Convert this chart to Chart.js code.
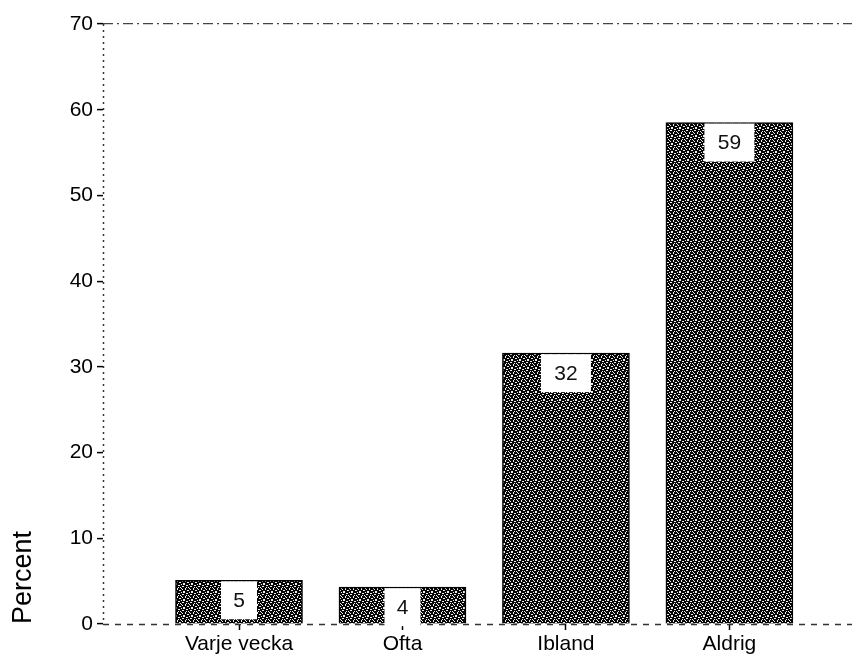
<!DOCTYPE html>
<html>
<head>
<meta charset="utf-8">
<script src="https://cdn.jsdelivr.net/npm/chart.js@4.4.1/dist/chart.umd.min.js"></script>
<style>
    body { margin: 0; background: #fff; }
    #wrap { width: 862px; height: 663px; }
</style>
</head>
<body>
<div id="wrap"><canvas id="chart" width="862" height="663"></canvas></div>
<script>
// categories and values (percent)
const categories = ["Varje vecka", "Ofta", "Ibland", "Aldrig"];
const percent_values = [5.1, 4.3, 31.6, 58.5];
const y_ticks = [0, 10, 20, 30, 40, 50, 60, 70];

const FONT = "'Liberation Sans', Arial, sans-serif";

/**
 * Build a dithered dark fill like the scanned bars.
 * @returns {CanvasPattern} pattern.
 */
function make_pattern() {
    let c = document.createElement("canvas");
    c.width = 8;
    c.height = 8;
    let g = c.getContext("2d");
    g.fillStyle = "#050505";
    g.fillRect(0, 0, 8, 8);
    g.fillStyle = "#f0f0f0";
    for (let i = 0; i < 8; i++) {
        for (let j = 0; j < 8; j++) {
            if ((i * 3 + j * 5) % 7 === 0 || (i + 3 * j) % 8 === 5) {
                g.fillRect(i, j, 1, 1);
            }
        }
    }
    return g.createPattern(c, "repeat");
}

// dotted axis lines, drawn under the bars
const axis_lines = {
    id: "axis_lines",
    beforeDatasetsDraw(chart) {
        let ctx = chart.ctx;
        let a = chart.chartArea;
        ctx.save();
        ctx.strokeStyle = "#333";
        ctx.lineWidth = 1.5;
        ctx.setLineDash([2, 4]);
        ctx.beginPath();
        ctx.moveTo(a.left + 0.5, a.top);
        ctx.lineTo(a.left + 0.5, a.bottom);
        ctx.stroke();
        ctx.setLineDash([6, 6]);
        ctx.beginPath();
        ctx.moveTo(a.left, a.bottom + 0.5);
        ctx.lineTo(a.right, a.bottom + 0.5);
        ctx.stroke();
        ctx.restore();
    }
};

// white value boxes at the top of each bar
const value_boxes = {
    id: "value_boxes",
    afterDatasetsDraw(chart) {
        let ctx = chart.ctx;
        let meta = chart.getDatasetMeta(0);
        ctx.save();
        ctx.font = "21px " + FONT;
        ctx.textAlign = "center";
        ctx.textBaseline = "middle";
        meta.data.forEach((bar, i) => {
            let text = String(Math.round(percent_values[i]));
            let w = text.length > 1 ? 50 : 36;
            let h = 38;
            ctx.fillStyle = "#fff";
            ctx.fillRect(bar.x - w / 2, bar.y + 1, w, h);
            ctx.fillStyle = "#111";
            ctx.fillText(text, bar.x, bar.y + 1 + h / 2 + 1);
        });
        ctx.restore();
    }
};

let bar_points = categories.map((c, i) => ({ x: i + 1, y: percent_values[i] }));

new Chart(document.getElementById("chart"), {
    type: "bar",
    data: {
        datasets: [{
            data: bar_points,
            backgroundColor: make_pattern(),
            borderColor: "#000",
            borderWidth: 1.5,
            barThickness: 127
        }]
    },
    options: {
        responsive: false,
        animation: false,
        layout: { padding: { top: 24, right: 10, left: 0, bottom: 0 } },
        plugins: {
            legend: { display: false },
            tooltip: { enabled: false }
        },
        scales: {
            x: {
                type: "linear",
                offset: false,
                min: 0.168,
                max: 4.75,
                afterBuildTicks: (scale) => {
                    scale.ticks = categories.map((c, i) => ({ value: i + 1 }));
                },
                afterFit: (scale) => { scale.height = 39; },
                border: { display: false },
                grid: {
                    offset: false,
                    drawOnChartArea: false,
                    tickLength: 6,
                    tickColor: "#000",
                    tickWidth: 1.5
                },
                ticks: {
                    padding: 2,
                    color: "#000",
                    font: { family: FONT, size: 21 },
                    maxRotation: 0,
                    autoSkip: false,
                    callback: (v) => categories[v - 1]
                }
            },
            y: {
                min: 0,
                max: 70,
                afterBuildTicks: (scale) => {
                    scale.ticks = y_ticks.map((v) => ({ value: v }));
                },
                afterFit: (scale) => { scale.width = 103; },
                border: { display: false, dash: [10, 4, 2, 4] },
                grid: {
                    color: (ctx) => (ctx.tick && ctx.tick.value === 70 ? "#444" : "transparent"),
                    lineWidth: 1.2,
                    tickLength: 6,
                    tickColor: "#000",
                    tickWidth: 1.5
                },
                ticks: {
                    padding: 4,
                    color: "#000",
                    font: { family: FONT, size: 21 }
                },
                title: {
                    display: true,
                    text: "Percent",
                    align: "start",
                    color: "#000",
                    font: { family: FONT, size: 27 },
                    padding: { top: 7, bottom: 0 }
                }
            }
        }
    },
    plugins: [axis_lines, value_boxes]
});
</script>
</body>
</html>
